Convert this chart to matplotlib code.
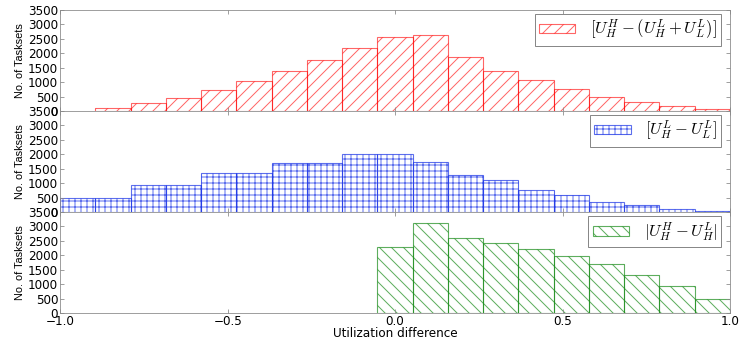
import numpy as np
import matplotlib
matplotlib.use("Agg")
import matplotlib.pyplot as plt

# histogram counts, 19 equal bins over [-1, 1]
red_counts = [0, 100, 260, 440, 730, 1030, 1375, 1780, 2200, 2550, 2620,
              1860, 1380, 1065, 750, 500, 310, 175, 70]
blue_counts = [475, 475, 925, 925, 1340, 1340, 1690, 1690, 2000, 2000, 1730,
               1280, 1095, 750, 580, 335, 230, 105, 25]
green_counts = [0, 0, 0, 0, 0, 0, 0, 0, 0, 2280, 3130, 2600, 2430, 2230,
                1965, 1690, 1330, 925, 475]
labels = [r"$[U_H^H-(U_H^L+U_L^L)]$", r"$[U_H^L-U_L^L]$", r"$|U_H^H-U_H^L|$"]
x_ticks = [-1.0, -0.5, 0.0, 0.5, 1.0]
y_ticks = [0, 500, 1000, 1500, 2000, 2500, 3000, 3500]

plt.rcParams["mathtext.fontset"] = "cm"
plt.rcParams["font.family"] = "DejaVu Sans"
plt.rcParams["hatch.linewidth"] = 1.0

edges = np.linspace(-1, 1, 20)
width = edges[1] - edges[0]

fig, axes = plt.subplots(3, 1, sharex=True, figsize=(743 / 72, 339 / 72), dpi=72)
fig.subplots_adjust(left=0.081, right=0.9825, top=0.9705, bottom=0.0767, hspace=0)

series = [
    (red_counts, (1.0, 0.0, 0.0, 0.6), "//"),
    (blue_counts, (0.1, 0.2, 0.9, 0.7), "++"),
    (green_counts, (0.1, 0.55, 0.1, 0.7), "\\\\"),
]

for ax, (counts, col, hatch), lab in zip(axes, series, labels):
    counts = np.array(counts)
    keep = counts > 0
    ax.bar(edges[:-1][keep], counts[keep], width=width, align="edge",
           facecolor="none", edgecolor=col, hatch=hatch, linewidth=1.1,
           label=lab)
    ax.set_xlim(-1, 1)
    ax.set_ylim(0, 3500)
    ax.set_yticks(y_ticks)
    ax.set_xticks(x_ticks)
    ax.tick_params(direction="in", top=True, right=True, length=4,
                   color="#888888", labelsize=12, pad=2)
    for s in ax.spines.values():
        s.set_color("#888888")
    ax.set_ylabel("No. of Tasksets", family="Liberation Sans", fontsize=11,
                  labelpad=3)
    leg = ax.legend(loc="upper right", bbox_to_anchor=(0.987, 0.96),
                    borderaxespad=0, fontsize=16.5, fancybox=False,
                    framealpha=1, edgecolor="#888888", handlelength=2.2,
                    handleheight=0.55, handletextpad=0.9, borderpad=0.25)
    leg.get_frame().set_linewidth(1.0)

axes[2].set_xticklabels(["\u22121.0", "\u22120.5", "0.0", "0.5", "1.0"])
axes[2].set_xlabel("Utilization difference", fontsize=12, labelpad=-1)

fig.savefig("out.png", dpi=72)
